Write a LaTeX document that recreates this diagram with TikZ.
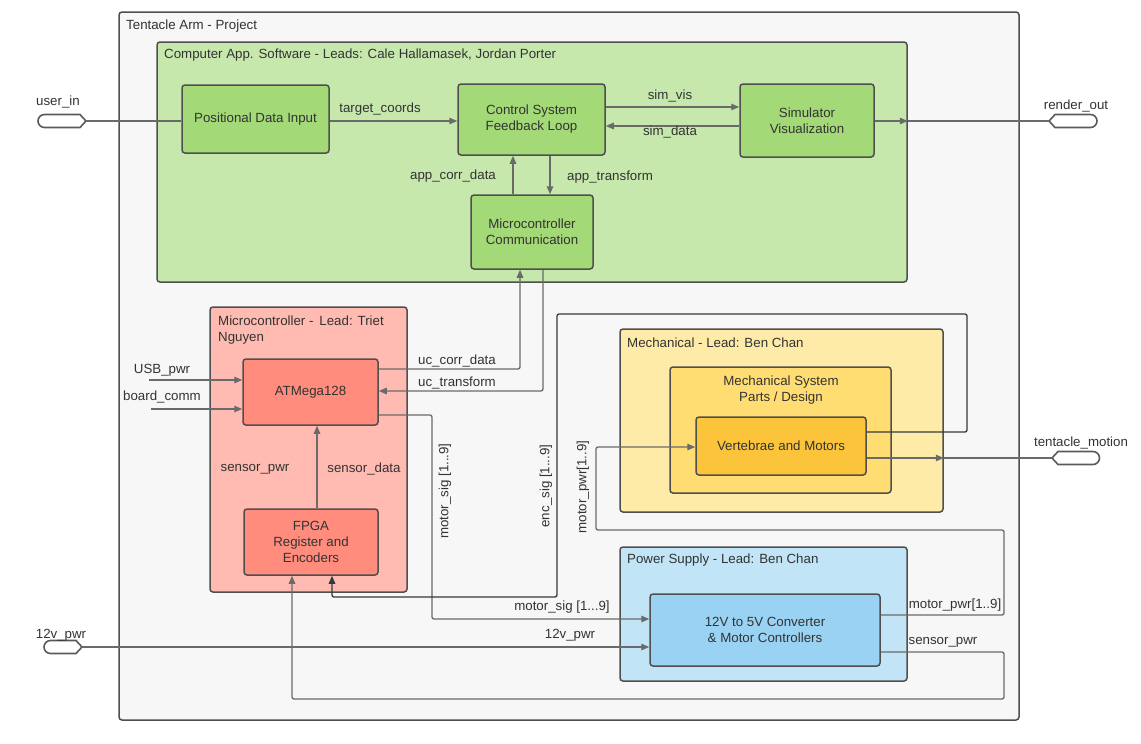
\documentclass[tikz,border=0pt]{standalone}
\usepackage{fontspec}
\setmainfont{Liberation Sans}
\usetikzlibrary{arrows.meta}
\definecolor{txt}{HTML}{333333}
\definecolor{bord}{HTML}{4F4F4F}
\definecolor{linec}{HTML}{6A6A6A}
\definecolor{darkl}{HTML}{333A40}
\definecolor{projfill}{HTML}{F7F7F7}
\definecolor{swfill}{HTML}{C7E8AC}
\definecolor{swblk}{HTML}{A3D977}
\definecolor{ucfill}{HTML}{FFBBB1}
\definecolor{ucblk}{HTML}{FF8C7D}
\definecolor{mefill}{HTML}{FFEBA8}
\definecolor{mesys}{HTML}{FFDD72}
\definecolor{meblk}{HTML}{FCC43A}
\definecolor{pwfill}{HTML}{C1E4F7}
\definecolor{pwblk}{HTML}{99D2F2}
\begin{document}
\begin{tikzpicture}[x=1pt,y=-1pt,
  every node/.style={font=\fontsize{13.3}{16}\selectfont, text=txt},
  cont/.style={draw=bord, line width=1.5pt, rounded corners=3pt, inner sep=0pt},
  blk/.style={cont, align=center},
  ttl/.style={anchor=west, inner sep=0pt},
  lbl/.style={inner sep=0pt},
  conn/.style={draw=linec, line width=1.3pt, rounded corners=2pt},
  arr/.style={conn, -{Triangle[length=8pt,width=6.5pt]}},
  darr/.style={arr, draw=darkl},
  port/.style={draw=linec!85!black, line width=1.6pt, fill=white}
]
\useasboundingbox (0,0) rectangle (1141,744);

% containers
\node[cont, fill=projfill, minimum width=900pt, minimum height=708pt] (proj) at (569,366) {};
\node[ttl] (t_proj) at (126,26) {Tentacle Arm - Project};

\node[cont, fill=swfill, minimum width=750pt, minimum height=240pt] (sw) at (532,162) {};
\node[ttl] (t_sw) at (164,55) {Computer App. Software - Leads: Cale Hallamasek, Jordan Porter};

\node[cont, fill=ucfill, minimum width=197pt, minimum height=285pt] (uc) at (308.5,449.5) {};
\node[ttl, anchor=north west, align=left] (t_uc) at (218,315.5) {Microcontroller -\, Lead: Triet\\[0.5pt]Nguyen};

\node[cont, fill=mefill, minimum width=323pt, minimum height=183pt] (mech) at (781.5,420.5) {};
\node[ttl] (t_mech) at (627,343) {Mechanical - Lead: Ben Chan};
\node[cont, fill=mesys, minimum width=221pt, minimum height=126pt] (msys) at (780.5,430) {};
\node[lbl, anchor=north, align=center] (t_msys) at (781,375.5) {Mechanical System\\Parts / Design};

\node[cont, fill=pwfill, minimum width=287pt, minimum height=134pt] (pw) at (763.5,614) {};
\node[ttl] (t_pw) at (627,560) {Power Supply - Lead: Ben Chan};

% blocks
\node[blk, fill=swblk, minimum width=147pt, minimum height=68pt] (pos) at (255.5,119) {Positional Data Input};
\node[blk, fill=swblk, minimum width=147pt, minimum height=71pt] (cs) at (531.5,119.5) {Control System\\Feedback Loop};
\node[blk, fill=swblk, minimum width=134pt, minimum height=73pt] (sim) at (807,120.5) {Simulator\\Visualization};
\node[blk, fill=swblk, minimum width=122pt, minimum height=74pt] (mcc) at (532,232) {Microcontroller\\Communication};
\node[blk, fill=ucblk, minimum width=135pt, minimum height=66pt] (atm) at (310.5,392) {ATMega128};
\node[blk, fill=ucblk, minimum width=134pt, minimum height=66pt] (fpga) at (311,542) {FPGA\\Register and\\Encoders};
\node[blk, fill=meblk, minimum width=170pt, minimum height=58pt] (vert) at (781,446) {Vertebrae and Motors};
\node[blk, fill=pwblk, minimum width=230pt, minimum height=72pt] (conv) at (765,630) {12V to 5V Converter\\\& Motor Controllers};

% ports
\draw[port] (86,121) -- (80,114.5) -- (44.5,114.5) arc[start angle=270, end angle=90, radius=6.5] -- (80,127.5) -- cycle;
\coordinate (uin) at (86,121);
\draw[port] (1049,121) -- (1055,114.5) -- (1090.5,114.5) arc[start angle=270, end angle=450, radius=6.5] -- (1055,127.5) -- cycle;
\coordinate (rout) at (1049,121);
\draw[port] (1052,458) -- (1058,451.5) -- (1093,451.5) arc[start angle=270, end angle=450, radius=6.5] -- (1058,464.5) -- cycle;
\coordinate (tmot) at (1052,458);
\draw[port] (82,647) -- (76,640.5) -- (50.5,640.5) arc[start angle=270, end angle=90, radius=6.5] -- (76,653.5) -- cycle;
\coordinate (p12) at (82,647);
\coordinate (usb) at (149,380);
\coordinate (bcomm) at (151,409);

% level coordinates
\coordinate (y107) at (0,107);
\coordinate (y126) at (0,126);
\coordinate (x513) at (513,0);
\coordinate (x550) at (550,0);

% connectors
\draw[conn] (uin) -- (uin -| pos.west);
\draw[arr] (pos.east |- uin) -- (cs.west |- uin);
\draw[arr] (cs.east |- y107) -- (sim.west |- y107);
\draw[arr] (sim.west |- y126) -- (cs.east |- y126);
\draw[arr] (sim.east |- rout) -- (sw.east |- rout);
\draw[conn] (sw.east |- rout) -- (rout);
\draw[arr] (mcc.north -| x513) -- (cs.south -| x513);
\draw[arr] (cs.south -| x550) -- (mcc.north -| x550);

\draw[arr] (atm.east |- 0,369) -- (520,369) -- (mcc.south -| 520,0);
\draw[arr] (mcc.south -| 543,0) -- (543,391) -- (atm.east |- 0,391);
\draw[arr] (atm.east |- 0,415) -- (432,415) -- (432,619) -- (conv.west |- 0,619);
\draw[arr] (usb) -- (atm.west |- usb);
\draw[arr] (bcomm) -- (atm.west |- bcomm);
\draw[arr] (fpga.north -| 317,0) -- (atm.south -| 317,0);
\draw[arr] (conv.east |- 0,652) -- (1004,652) -- (1004,699) -- (292,699) -- (fpga.south -| 292,0);
\draw[darr] (vert.east |- 0,432) -- (967,432) -- (967,314) -- (557,314) -- (557,597) -- (332,597) -- (fpga.south -| 332,0);
\draw[arr] (conv.east |- 0,615) -- (1004,615) -- (1004,530) -- (596,530) -- (596,447) -- (vert.west |- 0,447);
\draw[arr] (vert.east |- tmot) -- (mech.east |- tmot);
\draw[conn] (mech.east |- tmot) -- (tmot);
\draw[arr] (p12) -- (conv.west |- p12);

% labels
\node[lbl] (l_uin) at (58,102) {user\_in};
\node[lbl] (l_tc) at (380,109) {target\_coords};
\node[lbl] (l_sv) at (670,96) {sim\_vis};
\node[lbl] (l_sd) at (670,132) {sim\_data};
\node[lbl] (l_acd) at (453,176) {app\_corr\_data};
\node[lbl] (l_at) at (610,177) {app\_transform};
\node[lbl] (l_ro) at (1076,106) {render\_out};
\node[lbl] (l_usb) at (162,370) {USB\_pwr};
\node[lbl] (l_bc) at (162,397) {board\_comm};
\node[lbl] (l_ucd) at (457,361) {uc\_corr\_data};
\node[lbl] (l_uct) at (457,383) {uc\_transform};
\node[lbl] (l_sp) at (255,469) {sensor\_pwr};
\node[lbl] (l_sdat) at (364,469) {sensor\_data};
\node[lbl, rotate=90] (l_ms) at (445,491) {motor\_sig [1...9]};
\node[lbl, rotate=90] (l_es) at (546,486) {enc\_sig [1...9]};
\node[lbl, rotate=90] (l_mp) at (583,487) {motor\_pwr[1..9]};
\node[lbl] (l_ms2) at (562,607) {motor\_sig [1...9]};
\node[lbl] (l_12a) at (570,635) {12v\_pwr};
\node[lbl] (l_12b) at (61,635) {12v\_pwr};
\node[lbl] (l_mp2) at (955,605) {motor\_pwr[1..9]};
\node[lbl] (l_sp2) at (943,642) {sensor\_pwr};
\node[lbl] (l_tm) at (1081,443) {tentacle\_motion};
\end{tikzpicture}
\end{document}
